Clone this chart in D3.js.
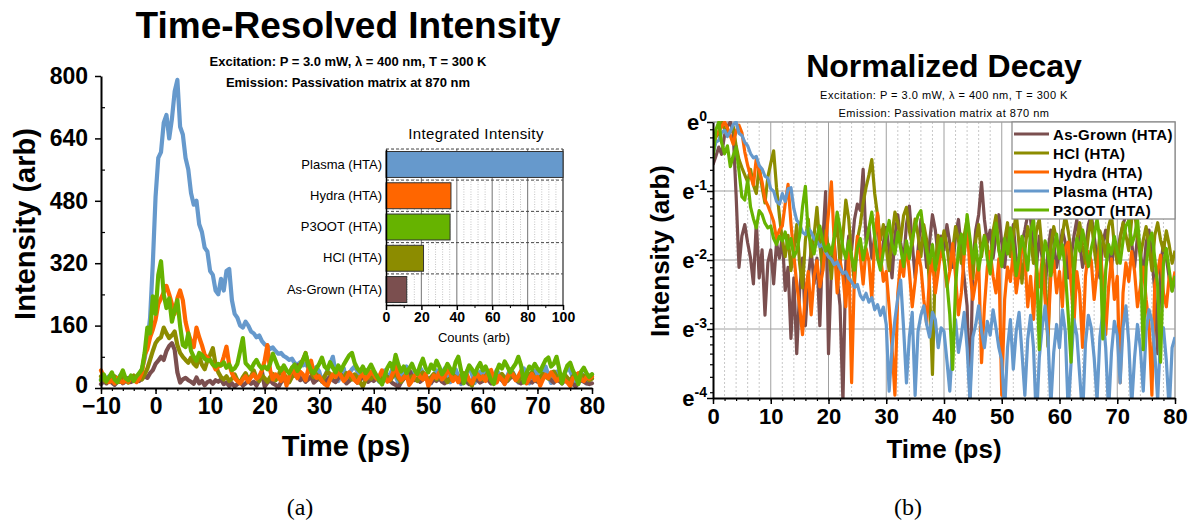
<!DOCTYPE html>
<html><head><meta charset="utf-8">
<script src="https://cdn.jsdelivr.net/npm/d3@7"></script>
<style>
body{margin:0;background:#fff}
svg{display:block;font-family:"Liberation Sans",Arial,sans-serif}
</style>
</head><body>
<svg id="c" width="1193" height="524"></svg>
<script>
// ---------------- DATA ----------------
// time samples every 0.5 ps from -10 to 80 ps
const timeStart = -10, timeStep = 0.5;
const seriesNames = ["As-Grown (HTA)", "HCl (HTA)", "Hydra (HTA)", "Plasma (HTA)", "P3OOT (HTA)"];
const seriesColors = ["#7b4f4f", "#8c8c00", "#ff6600", "#6699cc", "#66b300"];

const asGrown = [
10,18,12,20,14,8,16,22,12,18,25,15,20,28,18,24,30,26,38,46,
62,70,80,72,95,108,115,98,40,14,22,26,20,16,11,27,12,18,7,15,
18,11,20,16,22,10,14,5,12,4,10,16,6,12,18,11,16,6,20,42,
4,14,20,12,8,2,15,22,18,28,35,32,58,20,25,16,22,30,14,20,
25,18,12,22,30,20,15,26,34,20,12,18,28,22,14,20,30,24,16,22,
18,26,20,14,22,28,18,12,8,2,15,24,30,48,28,20,24,16,22,30,
20,14,22,18,26,16,12,20,24,30,28,18,14,22,16,10,18,24,20,14,
18,24,20,12,16,22,28,20,14,18,26,30,22,16,12,20,24,18,14,20,
16,22,26,30,28,20,14,22,18,12,20,24,16,10,4,14,20,16,12,10,
12];
const hcl = [
30,22,15,25,18,30,24,16,28,20,14,26,32,20,28,22,35,50,72,95,
115,125,130,155,140,128,135,145,110,90,80,72,65,78,62,55,82,60,48,70,
85,102,60,40,28,22,30,18,24,35,20,14,28,38,22,30,45,26,18,32,
25,16,28,36,20,30,50,38,22,15,28,35,48,60,72,90,55,40,28,35,
25,18,30,42,36,28,40,45,32,26,38,30,22,35,28,14,4,20,30,24,
32,26,18,24,34,28,20,30,38,25,16,28,35,22,30,26,18,32,40,24,
20,28,36,22,30,42,26,15,24,34,28,20,32,38,24,18,6,26,34,28,
22,30,40,32,24,16,28,36,26,20,30,38,25,18,32,28,22,34,40,26,
20,28,36,30,24,38,42,30,22,28,34,26,18,30,36,28,24,32,26,20,
24];
const hydra = [
45,30,22,15,20,12,25,18,14,22,16,28,20,15,24,40,85,100,130,150,
175,215,230,245,262,240,215,190,230,250,225,170,140,120,105,155,130,110,85,78,
70,62,48,55,58,80,106,60,38,25,18,12,22,30,16,28,35,24,30,45,
70,110,45,22,35,28,18,40,6,30,50,38,25,42,35,20,48,70,38,26,
30,18,10,5,22,35,28,45,30,18,26,40,32,20,14,28,36,22,30,42,
35,24,30,45,28,16,22,38,60,30,20,26,35,8,18,32,40,28,22,36,
5,20,32,26,40,22,30,45,38,18,28,15,32,24,36,20,12,28,35,22,
30,18,42,46,25,14,30,22,10,28,40,35,20,30,44,26,12,24,36,20,
28,6,22,34,26,40,30,18,24,32,20,14,5,25,30,38,22,18,28,24,
30];
const plasma = [
22,15,25,30,18,28,20,32,24,18,26,20,30,22,35,48,75,120,180,320,
490,590,605,680,700,640,690,760,790,670,650,590,560,500,470,480,420,400,360,350,
300,290,250,240,280,250,300,305,225,190,180,160,155,170,160,145,140,130,135,120,
112,108,100,104,95,88,90,82,78,72,75,64,60,66,58,62,52,56,48,54,
42,16,30,45,62,80,40,18,35,50,15,38,48,55,42,35,50,45,30,40,
38,25,16,32,45,28,36,50,30,14,35,42,55,38,30,44,36,52,40,30,
25,12,30,45,22,38,50,28,15,34,48,30,10,26,40,55,35,13,28,42,
30,52,38,12,24,45,36,20,11,32,48,40,26,14,35,50,30,12,28,44,
36,18,40,55,32,13,26,42,30,16,38,52,44,28,14,36,40,25,12,30,
35];
const p3oot = [
20,35,18,28,40,22,15,30,45,25,20,32,18,30,38,48,90,155,140,235,
190,290,325,240,205,230,170,200,225,160,110,105,140,95,80,70,90,85,75,70,
72,60,55,62,58,66,52,60,46,50,62,95,128,64,56,48,62,72,58,50,
55,48,62,88,70,52,45,58,46,38,52,60,44,55,70,88,62,45,38,50,
62,78,55,48,66,52,40,58,45,60,72,84,90,64,50,42,55,38,48,60,
45,32,20,9,30,52,64,48,85,60,42,55,38,50,62,45,36,58,75,52,
40,60,48,70,55,35,46,62,50,38,66,80,45,12,40,58,48,35,52,64,
45,55,38,20,10,42,60,50,68,55,40,52,62,80,58,14,38,55,48,62,
50,42,58,72,78,55,62,80,48,12,40,58,65,45,30,10,42,52,38,28,
35];

// Inset bar chart
const barCategories = ["Plasma (HTA)", "Hydra (HTA)", "P3OOT (HTA)", "HCl (HTA)", "As-Grown (HTA)"];
const barValues = [100, 36.7, 36.2, 21.2, 11.7];
const barColors = ["#6699cc", "#ff6600", "#66b300", "#8c8c00", "#7b4f4f"];

// Tick values
const xTicksL = [-10, 0, 10, 20, 30, 40, 50, 60, 70, 80];
const yTicksL = [0, 160, 320, 480, 640, 800];
const xTicksInset = [0, 20, 40, 60, 80, 100];
const xTicksR = [0, 10, 20, 30, 40, 50, 60, 70, 80];
const yTicksR = [0, -1, -2, -3, -4]; // exponents of e

// ---------------- DRAW ----------------
const svg = d3.select("#c");
const FONT = '"Liberation Sans", Arial, sans-serif';
const allValues = [asGrown, hcl, hydra, plasma, p3oot];
const series = seriesNames.map((name, i) => ({
  name, color: seriesColors[i],
  pts: allValues[i].map((v, j) => ({t: timeStart + j * timeStep, v}))
}));

function styleAxis(g, size, weight) {
  g.attr("font-family", FONT).attr("font-size", size).attr("font-weight", weight);
  g.selectAll("text").attr("fill", "#000");
  g.selectAll("line").attr("stroke", "#000").attr("stroke-width", 1.5);
  g.select(".domain").attr("stroke", "#000").attr("stroke-width", 2);
}

// ===== Left chart =====
const xL = d3.scaleLinear().domain([-10, 80]).range([101, 592]);
const yL = d3.scaleLinear().domain([0, 800]).range([388, 76]);
const L = svg.append("g");

// lines (bottom to top)
const drawOrderL = ["Plasma (HTA)", "As-Grown (HTA)", "HCl (HTA)", "Hydra (HTA)", "P3OOT (HTA)"];
const lineL = d3.line().x(d => xL(d.t)).y(d => yL(d.v));
drawOrderL.forEach(n => {
  const s = series.find(s => s.name === n);
  L.append("path").datum(s.pts).attr("d", lineL).attr("fill", "none")
    .attr("stroke", s.color).attr("stroke-width", 4.2)
    .attr("stroke-linejoin", "round").attr("stroke-linecap", "round");
});

// axes
L.append("g").attr("transform", "translate(0,388)")
  .call(d3.axisBottom(xL).tickValues(d3.range(-10, 81, 2)).tickSize(3).tickSizeOuter(0).tickFormat(""))
  .call(g => { g.select(".domain").remove(); g.selectAll("line").attr("stroke", "#000").attr("stroke-width", 1.2); });
L.append("g").attr("transform", "translate(0,388)")
  .call(d3.axisBottom(xL).tickValues(xTicksL).tickSize(6).tickSizeOuter(0).tickPadding(4))
  .call(g => styleAxis(g, 23, "bold"));
L.append("g").attr("transform", "translate(101,0)")
  .call(d3.axisRight(yL).tickValues(d3.range(80, 800, 160)).tickSize(4).tickSizeOuter(0).tickFormat(""))
  .call(g => { g.select(".domain").remove(); g.selectAll("line").attr("stroke", "#000").attr("stroke-width", 1.2); });
L.append("g").attr("transform", "translate(101,0)")
  .call(d3.axisLeft(yL).tickValues(yTicksL).tickSize(6).tickSizeOuter(0).tickPadding(7))
  .call(g => styleAxis(g, 23, "bold"))
  .call(g => g.selectAll(".tick text").filter(d => d === 0).attr("dy", "0.2em"));

// titles
L.append("text").attr("x", 348).attr("y", 38).attr("text-anchor", "middle")
  .attr("font-size", 37).attr("font-weight", "bold").text("Time-Resolved Intensity");
L.append("text").attr("x", 348).attr("y", 66).attr("text-anchor", "middle")
  .attr("font-size", 13).attr("font-weight", "bold").text("Excitation: P = 3.0 mW, λ = 400 nm, T = 300 K");
L.append("text").attr("x", 348).attr("y", 87).attr("text-anchor", "middle")
  .attr("font-size", 13).attr("font-weight", "bold").text("Emission: Passivation matrix at 870 nm");
L.append("text").attr("x", 346).attr("y", 456).attr("text-anchor", "middle")
  .attr("font-size", 29).attr("font-weight", "bold").text("Time (ps)");
L.append("text").attr("transform", "translate(35,224) rotate(-90)").attr("text-anchor", "middle")
  .attr("font-size", 29).attr("font-weight", "bold").text("Intensity (arb)");

// ===== Inset bar chart =====
const xI = d3.scaleLinear().domain([0, 100]).range([386, 563]);
const yI = d3.scaleBand().domain(barCategories).range([149, 305]).paddingInner(0.17).paddingOuter(0.08);
const I = svg.append("g");
// minor dotted grid
I.selectAll("line.mg").data(d3.range(4, 100, 4).filter(v => v % 20 !== 0)).join("line")
  .attr("x1", d => xI(d)).attr("x2", d => xI(d)).attr("y1", 149).attr("y2", 305)
  .attr("stroke", "#c4c4c4").attr("stroke-width", 1).attr("stroke-dasharray", "1,1.5");
// major grid
I.selectAll("line.Mg").data([20, 40, 60, 80]).join("line")
  .attr("x1", d => xI(d)).attr("x2", d => xI(d)).attr("y1", 149).attr("y2", 305)
  .attr("stroke", "#8a8a8a").attr("stroke-width", 1.2);
// horizontal dashed separators and top border
const sepYs = [149].concat(barCategories.slice(1).map(c => yI(c) - yI.step() * yI.paddingInner() / 2));
I.selectAll("line.hs").data(sepYs).join("line")
  .attr("x1", 386).attr("x2", 563).attr("y1", d => d).attr("y2", d => d)
  .attr("stroke", "#444").attr("stroke-width", 1).attr("stroke-dasharray", "3,2");
I.append("line").attr("x1", 563).attr("x2", 563).attr("y1", 149).attr("y2", 305)
  .attr("stroke", "#555").attr("stroke-width", 1.5);
// bars
I.selectAll("rect.bar").data(barCategories).join("rect")
  .attr("x", xI(0)).attr("y", d => yI(d))
  .attr("width", (d, i) => xI(barValues[i]) - xI(0)).attr("height", yI.bandwidth())
  .attr("fill", (d, i) => barColors[i]).attr("stroke", "#333").attr("stroke-width", 1);
// axes
I.append("g").attr("transform", "translate(0,305)")
  .call(d3.axisBottom(xI).tickValues(d3.range(10, 100, 20)).tickSize(3).tickSizeOuter(0).tickFormat(""))
  .call(g => { g.select(".domain").remove(); g.selectAll("line").attr("stroke", "#000"); });
I.append("g").attr("transform", "translate(0,305)")
  .call(d3.axisBottom(xI).tickValues(xTicksInset).tickSize(5).tickSizeOuter(0).tickPadding(2))
  .call(g => { styleAxis(g, 14, "bold"); g.select(".domain").attr("stroke-width", 1.5); });
I.append("g").attr("transform", "translate(386,0)")
  .call(d3.axisLeft(yI).tickSize(0).tickPadding(4))
  .call(g => { styleAxis(g, 13, "normal"); g.select(".domain").attr("stroke-width", 1.5); });
I.append("text").attr("x", 476).attr("y", 139).attr("text-anchor", "middle")
  .attr("font-size", 15).attr("letter-spacing", 0.4).text("Integrated Intensity");
I.append("text").attr("x", 474).attr("y", 342).attr("text-anchor", "middle")
  .attr("font-size", 13).text("Counts (arb)");

// ===== Right chart =====
const xR = d3.scaleLinear().domain([0, 80]).range([713, 1175]);
const yR = d3.scaleLinear().domain([-4, 0]).range([398, 122]);
const R = svg.append("g");
// grid
R.selectAll("line.rmg").data(d3.range(2, 80, 2).filter(v => v % 10 !== 0)).join("line")
  .attr("x1", d => xR(d)).attr("x2", d => xR(d)).attr("y1", 122).attr("y2", 398)
  .attr("stroke", "#c8c8c8").attr("stroke-width", 1).attr("stroke-dasharray", "2,2");
R.selectAll("line.rMg").data(d3.range(10, 80, 10)).join("line")
  .attr("x1", d => xR(d)).attr("x2", d => xR(d)).attr("y1", 122).attr("y2", 398)
  .attr("stroke", "#a0a0a0").attr("stroke-width", 1);
R.selectAll("line.rH").data([-1, -2, -3]).join("line")
  .attr("x1", 713).attr("x2", 1175).attr("y1", d => yR(d)).attr("y2", d => yR(d))
  .attr("stroke", "#a0a0a0").attr("stroke-width", 1);
R.append("path").attr("d", "M713,122H1175V398").attr("fill", "none").attr("stroke", "#a0a0a0").attr("stroke-width", 1.5);

// clip
svg.append("defs").append("clipPath").attr("id", "clipR").append("rect")
  .attr("x", 713).attr("y", 121).attr("width", 462).attr("height", 277);
const lineR = d3.line().x(d => xR(d.t)).y(d => yR(d.n));
const RL = R.append("g").attr("clip-path", "url(#clipR)");
series.forEach(s => {
  const mx = d3.max(s.pts, d => d.v);
  const pts = s.pts.filter(d => d.t >= 0).map(d => ({t: d.t, n: Math.log(d.v / mx)}));
  RL.append("path").datum(pts).attr("d", lineR).attr("fill", "none")
    .attr("stroke", s.color).attr("stroke-width", 3.2).attr("stroke-linejoin", "round");
});

// axes
R.append("g").attr("transform", "translate(0,398)")
  .call(d3.axisBottom(xR).tickValues(d3.range(0, 81, 2)).tickSize(3).tickSizeOuter(0).tickFormat(""))
  .call(g => { g.select(".domain").remove(); g.selectAll("line").attr("stroke", "#000").attr("stroke-width", 1.2); });
R.append("g").attr("transform", "translate(0,398)")
  .call(d3.axisBottom(xR).tickValues(xTicksR).tickSize(6).tickSizeOuter(0).tickPadding(4))
  .call(g => styleAxis(g, 22, "bold"));
const minorR = [];
[0, -1, -2, -3].forEach(n => [0.9, 0.8, 0.7, 0.6, 0.5, 0.4].forEach(f => minorR.push(n + Math.log(f))));
R.append("g").attr("transform", "translate(713,0)")
  .call(d3.axisLeft(yR).tickValues(minorR).tickSize(3).tickSizeOuter(0).tickFormat(""))
  .call(g => { g.select(".domain").remove(); g.selectAll("line").attr("stroke", "#000").attr("stroke-width", 1.2); });
R.append("g").attr("transform", "translate(713,0)")
  .call(d3.axisLeft(yR).tickValues(yTicksR).tickSize(6).tickSizeOuter(0).tickFormat(""))
  .call(g => styleAxis(g, 22, "bold"));
yTicksR.forEach(n => {
  const t = R.append("text").attr("x", 707).attr("y", yR(n) + 8).attr("text-anchor", "end")
    .attr("font-weight", "bold");
  t.append("tspan").attr("font-size", 22).text("e");
  t.append("tspan").attr("font-size", 14).attr("dy", -9).text(String(n));
});

// legend
const LG = R.append("g");
LG.append("rect").attr("x", 1012).attr("y", 122).attr("width", 163).attr("height", 97)
  .attr("fill", "#fff").attr("stroke", "#888").attr("stroke-width", 1.2);
series.forEach((s, i) => {
  const y = 134 + i * 19;
  LG.append("line").attr("x1", 1014).attr("x2", 1049).attr("y1", y).attr("y2", y)
    .attr("stroke", s.color).attr("stroke-width", 3);
  LG.append("text").attr("x", 1053).attr("y", y + 5.5).attr("font-size", 15).attr("font-weight", "bold")
    .attr("letter-spacing", 0.3).text(s.name);
});

// titles
R.append("text").attr("x", 944).attr("y", 77).attr("text-anchor", "middle")
  .attr("font-size", 32).attr("font-weight", "bold").text("Normalized Decay");
R.append("text").attr("x", 944).attr("y", 99).attr("text-anchor", "middle")
  .attr("font-size", 11).attr("letter-spacing", 0.5).text("Excitation: P = 3.0 mW, λ = 400 nm, T = 300 K");
R.append("text").attr("x", 944).attr("y", 117).attr("text-anchor", "middle")
  .attr("font-size", 11).attr("letter-spacing", 0.5).text("Emission: Passivation matrix at 870 nm");
R.append("text").attr("x", 944).attr("y", 458).attr("text-anchor", "middle")
  .attr("font-size", 26).attr("font-weight", "bold").text("Time (ps)");
R.append("text").attr("transform", "translate(669,251) rotate(-90)").attr("text-anchor", "middle")
  .attr("font-size", 26).attr("font-weight", "bold").text("Intensity (arb)");

// captions
svg.append("text").attr("x", 300).attr("y", 515).attr("text-anchor", "middle")
  .attr("font-family", '"Liberation Serif", "DejaVu Serif", serif').attr("font-size", 24).text("(a)");
svg.append("text").attr("x", 908).attr("y", 515).attr("text-anchor", "middle")
  .attr("font-family", '"Liberation Serif", "DejaVu Serif", serif').attr("font-size", 24).text("(b)");
</script>
</body></html>
